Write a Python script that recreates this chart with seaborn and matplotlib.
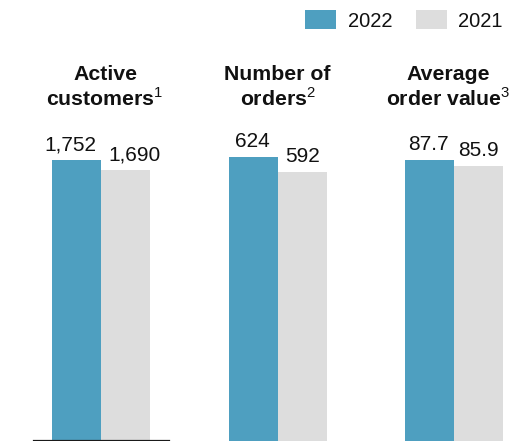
import matplotlib
matplotlib.use("Agg")
import matplotlib.pyplot as plt
import seaborn as sns
import pandas as pd
from matplotlib.patches import Patch

# Data
metrics = ["Active customers", "Number of orders", "Average order value"]
title_line1 = ["Active", "Number of", "Average"]
title_line2 = ["customers", "orders", "order value"]
footnotes = ["1", "2", "3"]
years = ["2022", "2021"]
values_2022 = [1752, 624, 87.7]
values_2021 = [1690, 592, 85.9]
labels_2022 = ["1,752", "624", "87.7"]
labels_2021 = ["1,690", "592", "85.9"]

colors = {"2022": "#4E9FC0", "2021": "#DDDDDD"}
text_color = "#111111"

sns.set_theme(style="white")
plt.rcParams["font.family"] = ["Liberation Sans", "DejaVu Sans"]
plt.rcParams["mathtext.fontset"] = "custom"
plt.rcParams["mathtext.rm"] = "Liberation Sans"
plt.rcParams["text.color"] = text_color

W, H = 510, 441
fig = plt.figure(figsize=(W / 100, H / 100), dpi=100)


def fx(px):
    return px / W


def fy(py):
    return 1 - py / H


# Layout (pixels)
panel_left = [34, 210.5, 387]
panel_width = 135
ax_bottom = 440.5
ax_top = 120
tallest_px = [280.5, 283.5, 280.5]   # drawn height of the tallest bar in each panel
px_per_unit = 122.5                  # horizontal scale: bar width 0.4 -> 49 px
title_x = [105, 277.5, 448]
label_dx = [(-4.7, 5.8), (-0.5, 0), (-1.4, -0.5)]  # points
fs_value = 15
fs_title = 15.3
fs_legend = 14.5

for i in range(3):
    df = pd.DataFrame({
        "metric": [metrics[i]] * 2,
        "year": years,
        "value": [values_2022[i], values_2021[i]],
    })
    ax = fig.add_axes([fx(panel_left[i]), 1 - ax_bottom / H,
                       fx(panel_width), (ax_bottom - ax_top) / H])
    sns.barplot(data=df, x="metric", y="value", hue="year", hue_order=years,
                palette=colors, width=0.8, gap=0, saturation=1,
                linewidth=0, edgecolor="none", legend=False, ax=ax)
    vmax = max(values_2022[i], values_2021[i])
    ax.set_ylim(0, vmax * (ax_bottom - ax_top) / tallest_px[i])
    half = panel_width / 2 / px_per_unit
    ax.set_xlim(-half, half)
    ax.set_xticks([])
    ax.set_yticks([])
    ax.set_xlabel("")
    ax.set_ylabel("")
    for side in ["top", "right", "left", "bottom"]:
        ax.spines[side].set_visible(False)
    if i == 0:
        ax.spines["bottom"].set_visible(True)
        ax.spines["bottom"].set_color("#1a1a1a")
        ax.spines["bottom"].set_linewidth(1.6)
    ax.patch.set_alpha(0)

    texts = [labels_2022[i], labels_2021[i]]
    for k, container in enumerate(ax.containers):
        bar = container.patches[0]
        ax.annotate(texts[k],
                    xy=(bar.get_x() + bar.get_width() / 2, bar.get_height()),
                    xytext=(label_dx[i][k], 7), textcoords="offset points",
                    ha="center", va="baseline", fontsize=fs_value,
                    color=text_color, annotation_clip=False)

    fig.text(fx(title_x[i]), fy(80), title_line1[i], ha="center", va="baseline",
             fontsize=fs_title, fontweight="bold", color=text_color)
    fig.text(fx(title_x[i]), fy(106),
             title_line2[i] + r"$^{\mathrm{" + footnotes[i] + "}}$",
             ha="center", va="baseline", fontsize=fs_title, fontweight="bold",
             color=text_color)

handles = [Patch(facecolor=colors[y], edgecolor="none", label=y) for y in years]
fig.legend(handles=handles, loc="upper right", bbox_to_anchor=(fx(503), fy(10)),
           ncol=2, frameon=False, fontsize=fs_legend, handlelength=1.55,
           handleheight=1.1, handletextpad=0.55, columnspacing=1.2,
           borderpad=0, borderaxespad=0)

fig.savefig("out.png", dpi=100)
